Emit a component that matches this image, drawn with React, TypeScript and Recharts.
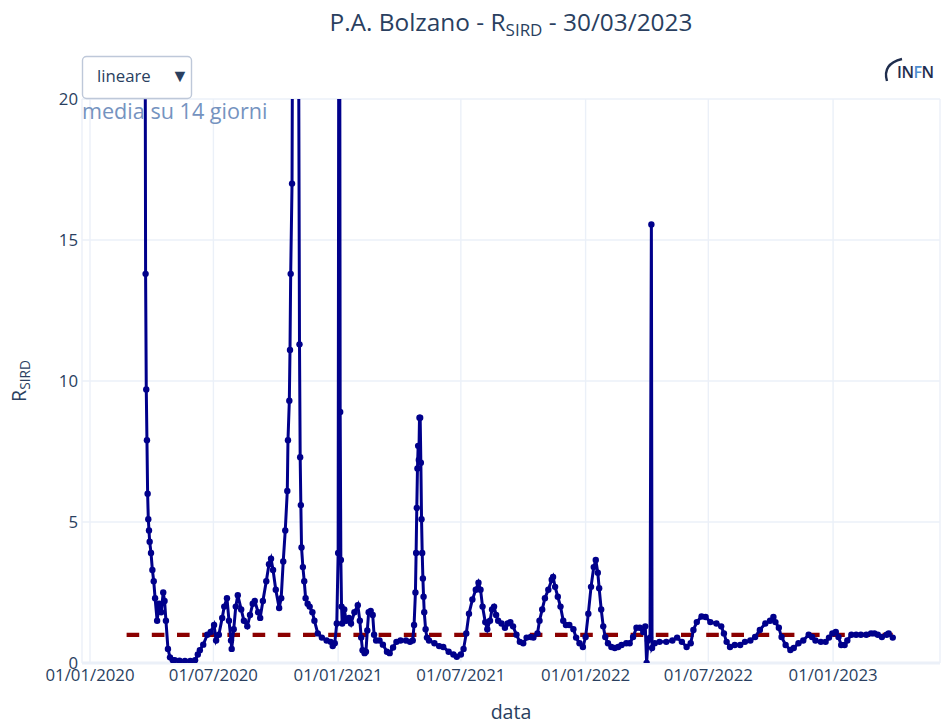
import { LineChart, Line, XAxis, YAxis, CartesianGrid, ReferenceLine } from 'recharts';

// R_SIRD, media su 14 giorni
const dates = [
  '2020-03-22', '2020-03-23', '2020-03-24', '2020-03-25', '2020-03-26', '2020-03-27', '2020-03-28', '2020-03-29',
  '2020-03-31', '2020-04-02', '2020-04-04', '2020-04-06', '2020-04-09', '2020-04-12', '2020-04-15', '2020-04-18',
  '2020-04-20', '2020-04-22', '2020-04-25', '2020-04-28', '2020-05-02', '2020-05-05', '2020-05-12', '2020-05-20',
  '2020-05-28', '2020-06-04', '2020-06-08', '2020-06-11', '2020-06-16', '2020-06-22', '2020-06-27', '2020-07-02',
  '2020-07-05', '2020-07-09', '2020-07-14', '2020-07-17', '2020-07-21', '2020-07-24', '2020-07-27', '2020-07-28',
  '2020-07-31', '2020-08-03', '2020-08-06', '2020-08-11', '2020-08-15', '2020-08-20', '2020-08-24', '2020-08-28',
  '2020-08-31', '2020-09-05', '2020-09-08', '2020-09-12', '2020-09-17', '2020-09-21', '2020-09-24', '2020-09-27',
  '2020-10-01', '2020-10-06', '2020-10-09', '2020-10-12', '2020-10-15', '2020-10-18', '2020-10-19', '2020-10-21',
  '2020-10-22', '2020-10-23', '2020-10-25', '2020-10-26', '2020-10-29', '2020-11-01', '2020-11-03', '2020-11-05',
  '2020-11-06', '2020-11-07', '2020-11-08', '2020-11-10', '2020-11-12', '2020-11-14', '2020-11-17', '2020-11-20',
  '2020-11-24', '2020-11-27', '2020-12-02', '2020-12-08', '2020-12-15', '2020-12-21', '2020-12-24', '2020-12-27',
  '2020-12-30', '2021-01-01', '2021-01-02', '2021-01-03', '2021-01-04', '2021-01-05', '2021-01-06', '2021-01-07',
  '2021-01-10', '2021-01-13', '2021-01-17', '2021-01-20', '2021-01-25', '2021-01-30', '2021-02-02', '2021-02-04',
  '2021-02-06', '2021-02-09', '2021-02-11', '2021-02-13', '2021-02-15', '2021-02-18', '2021-02-21', '2021-02-23',
  '2021-02-26', '2021-03-03', '2021-03-08', '2021-03-14', '2021-03-18', '2021-03-23', '2021-03-28', '2021-04-03',
  '2021-04-11', '2021-04-17', '2021-04-21', '2021-04-23', '2021-04-25', '2021-04-26', '2021-04-27', '2021-04-28',
  '2021-04-29', '2021-04-30', '2021-05-01', '2021-05-02', '2021-05-03', '2021-05-04', '2021-05-05', '2021-05-06',
  '2021-05-07', '2021-05-08', '2021-05-10', '2021-05-12', '2021-05-15', '2021-05-23', '2021-05-30', '2021-06-05',
  '2021-06-13', '2021-06-20', '2021-06-25', '2021-07-01', '2021-07-05', '2021-07-09', '2021-07-13', '2021-07-18',
  '2021-07-23', '2021-07-27', '2021-07-30', '2021-08-02', '2021-08-06', '2021-08-09', '2021-08-13', '2021-08-16',
  '2021-08-19', '2021-08-22', '2021-08-25', '2021-08-30', '2021-09-04', '2021-09-08', '2021-09-12', '2021-09-16',
  '2021-09-21', '2021-09-26', '2021-10-01', '2021-10-06', '2021-10-12', '2021-10-16', '2021-10-22', '2021-10-25',
  '2021-10-29', '2021-11-02', '2021-11-07', '2021-11-12', '2021-11-14', '2021-11-17', '2021-11-21', '2021-11-25',
  '2021-11-29', '2021-12-03', '2021-12-08', '2021-12-14', '2021-12-18', '2021-12-23', '2021-12-28', '2022-01-01',
  '2022-01-05', '2022-01-09', '2022-01-13', '2022-01-16', '2022-01-19', '2022-01-21', '2022-01-24', '2022-01-27',
  '2022-01-30', '2022-02-03', '2022-02-08', '2022-02-13', '2022-02-18', '2022-02-23', '2022-03-02', '2022-03-07',
  '2022-03-12', '2022-03-17', '2022-03-22', '2022-03-27', '2022-03-30', '2022-04-01', '2022-04-03', '2022-04-06',
  '2022-04-08', '2022-04-09', '2022-04-13', '2022-04-20', '2022-04-30', '2022-05-09', '2022-05-16', '2022-05-23',
  '2022-05-30', '2022-06-05', '2022-06-09', '2022-06-14', '2022-06-21', '2022-06-27', '2022-07-04', '2022-07-13',
  '2022-07-20', '2022-07-24', '2022-07-28', '2022-08-02', '2022-08-09', '2022-08-17', '2022-08-24', '2022-09-01',
  '2022-09-08', '2022-09-15', '2022-09-23', '2022-09-30', '2022-10-05', '2022-10-08', '2022-10-13', '2022-10-17',
  '2022-10-23', '2022-10-30', '2022-11-04', '2022-11-11', '2022-11-18', '2022-11-26', '2022-12-01', '2022-12-06',
  '2022-12-14', '2022-12-21', '2022-12-26', '2022-12-31', '2023-01-05', '2023-01-09', '2023-01-13', '2023-01-18',
  '2023-01-22', '2023-01-28', '2023-02-04', '2023-02-11', '2023-02-19', '2023-02-26', '2023-03-03', '2023-03-08',
  '2023-03-14', '2023-03-21', '2023-03-24', '2023-03-30',
];

const rsird = [
  28, 13.8, 9.7, 7.9, 6.0, 5.1, 4.7, 4.3,
  3.9, 3.3, 2.9, 2.3, 1.5, 2.1, 1.8, 2.5,
  2.2, 1.5, 0.5, 0.2, 0.1, 0.1, 0.08, 0.07,
  0.07, 0.1, 0.3, 0.45, 0.65, 1.0, 1.1, 1.35,
  0.8, 1.0, 1.6, 2.0, 2.3, 1.5, 0.8, 0.5,
  1.2, 2.0, 2.4, 1.9, 1.5, 1.3, 1.7, 2.1,
  2.2, 1.8, 1.6, 2.2, 2.9, 3.5, 3.7, 3.3,
  2.6, 1.95, 2.3, 3.6, 4.7, 6.1, 7.9, 9.3,
  11.1, 13.8, 17.0, 25, 38, 42, 28, 11.3,
  7.3, 5.6, 4.1, 3.4, 2.9, 2.3, 2.1, 2.0,
  1.8, 1.5, 1.05, 0.9, 0.8, 0.75, 0.6, 0.7,
  1.4, 3.9, 25, 30, 8.9, 3.65, 2.0, 1.4,
  1.9, 1.5, 1.6, 1.4, 1.8, 2.05, 1.5, 0.9,
  0.45, 0.35, 0.4, 1.15, 1.8, 1.85, 1.7, 1.0,
  0.8, 0.8, 0.65, 0.4, 0.35, 0.55, 0.75, 0.8,
  0.8, 0.75, 0.8, 1.35, 2.5, 3.9, 5.5, 6.9,
  7.7, 7.2, 8.7, 8.7, 7.1, 5.1, 3.9, 3.0,
  2.35, 1.8, 1.2, 0.9, 0.8, 0.7, 0.6, 0.57,
  0.4, 0.3, 0.22, 0.3, 0.5, 1.05, 1.75, 2.25,
  2.6, 2.85, 2.6, 2.0, 1.45, 1.2, 1.5, 1.9,
  2.0, 1.7, 1.5, 1.4, 1.25, 1.4, 1.45, 1.3,
  1.0, 0.75, 0.7, 0.9, 0.92, 0.9, 1.05, 1.5,
  1.9, 2.3, 2.6, 2.95, 3.05, 2.7, 2.35, 2.0,
  1.5, 1.35, 1.35, 1.2, 0.9, 0.7, 0.57, 0.92,
  1.75, 2.7, 3.4, 3.65, 3.2, 2.65, 1.9, 1.3,
  0.92, 0.7, 0.57, 0.53, 0.57, 0.64, 0.7, 0.7,
  0.92, 1.25, 1.25, 1.1, 1.3, 0.0, 0.8, 0.9,
  15.55, 0.53, 0.7, 0.75, 0.75, 0.8, 0.9, 0.75,
  0.57, 0.7, 1.17, 1.45, 1.65, 1.63, 1.45, 1.4,
  1.3, 1.05, 0.75, 0.57, 0.64, 0.64, 0.75, 0.8,
  0.92, 1.17, 1.4, 1.5, 1.63, 1.45, 1.25, 0.92,
  0.64, 0.46, 0.53, 0.7, 0.8, 1.0, 0.92, 0.8,
  0.75, 0.75, 0.9, 1.05, 1.1, 0.92, 0.64, 0.64,
  0.8, 1.0, 1.0, 1.0, 1.0, 1.05, 1.05, 1.0,
  0.92, 1.0, 1.05, 0.9,
];

// soglia R = 1
const refDates = ['2020-02-24', '2023-03-30'];
const refValues = [1, 1];

const xTicks = ['2020-01-01', '2020-07-01', '2021-01-01', '2021-07-01', '2022-01-01', '2022-07-01', '2023-01-01'];
const yTicks = [0, 5, 10, 15, 20];
const xRange = ['2019-12-20T04:48:00Z', '2023-06-07T17:00:00Z'];

const FONT = '"Open Sans", verdana, arial, sans-serif';
const TEXT = '#2a3f5f';
const GRID = '#EBF0F8';

const toTime = (s: string) => Date.parse(s);

const seriesData = dates.map((d, i) => ({ t: toTime(d), r: rsird[i] }));
const refData = refDates.map((d, i) => ({ t: toTime(d), r: refValues[i] }));

const pad = (n: number) => String(n).padStart(2, '0');
const fmtDate = (t: number) => {
  const d = new Date(t);
  return `${pad(d.getUTCDate())}/${pad(d.getUTCMonth() + 1)}/${d.getUTCFullYear()}`;
};

const App = () => {
  return (
    <div style={{ position: 'absolute', left: 0, top: 0, width: 942, height: 726, background: '#fff', fontFamily: FONT }}>
      <LineChart width={942} height={726} margin={{ top: 99, right: 2, bottom: 0, left: 0 }}>
        <CartesianGrid stroke={GRID} strokeWidth={1.4} />
        <XAxis
          dataKey="t"
          type="number"
          scale="time"
          domain={xRange.map(toTime)}
          allowDataOverflow
          ticks={xTicks.map(toTime)}
          tickFormatter={fmtDate}
          height={63}
          axisLine={false}
          tickLine={false}
          tickSize={0}
          tickMargin={6}
          tick={{ fill: TEXT, fontSize: 16.8, fontFamily: FONT }}
        />
        <YAxis
          type="number"
          domain={[0, 20]}
          allowDataOverflow
          ticks={yTicks}
          width={82}
          axisLine={false}
          tickLine={false}
          tickSize={0}
          tickMargin={4}
          tick={{ fill: TEXT, fontSize: 16.8, fontFamily: FONT }}
        />
        <ReferenceLine y={0} stroke={GRID} strokeWidth={2.8} />
        <Line
          data={refData}
          dataKey="r"
          type="linear"
          stroke="#8B0000"
          strokeWidth={4.2}
          strokeDasharray="12.6 12.6"
          dot={false}
          activeDot={false}
          isAnimationActive={false}
        />
        <Line
          data={seriesData}
          dataKey="r"
          type="linear"
          stroke="#00008B"
          strokeWidth={3}
          dot={{ r: 3.2, fill: '#00008B', stroke: '#00008B', strokeWidth: 0 }}
          activeDot={false}
          isAnimationActive={false}
        />
      </LineChart>

      <svg width={942} height={726} style={{ position: 'absolute', left: 0, top: 0, pointerEvents: 'none' }} fontFamily={FONT}>
        <text x={511} y={31} textAnchor="middle" fontSize={24.4} fill={TEXT}>
          P.A. Bolzano - R<tspan fontSize={17} dy={5}>SIRD</tspan>
          <tspan dy={-5}> - 30/03/2023</tspan>
        </text>
        <text transform="translate(26,381) rotate(-90)" textAnchor="middle" fontSize={19.6} fill={TEXT}>
          R<tspan fontSize={13.7} dy={4}>SIRD</tspan>
        </text>
        <text x={511} y={719} textAnchor="middle" fontSize={19.6} fill={TEXT}>data</text>
        <text x={82} y={119} fontSize={21.6} fill="#7593bf">media su 14 giorni</text>

        <rect x={82.5} y={56.5} width={109} height={42} rx={4} fill="#ffffff" stroke="#BEC8D9" strokeWidth={1.4} />
        <text x={97} y={82} fontSize={16.8} fill={TEXT}>lineare</text>
        <text x={171} y={82} fontSize={18} fill={TEXT}>▼</text>

        <path d="M 902 59 Q 882 64 887 81" fill="none" stroke="#1f2d4d" strokeWidth={2.4} />
        <text x={897} y={78} fontSize={16} fontWeight={600} fill="#1f2d4d" letterSpacing={-0.5}>
          IN<tspan fill="#4f8fd0">F</tspan>N
        </text>
      </svg>
    </div>
  );
};

export default App;
